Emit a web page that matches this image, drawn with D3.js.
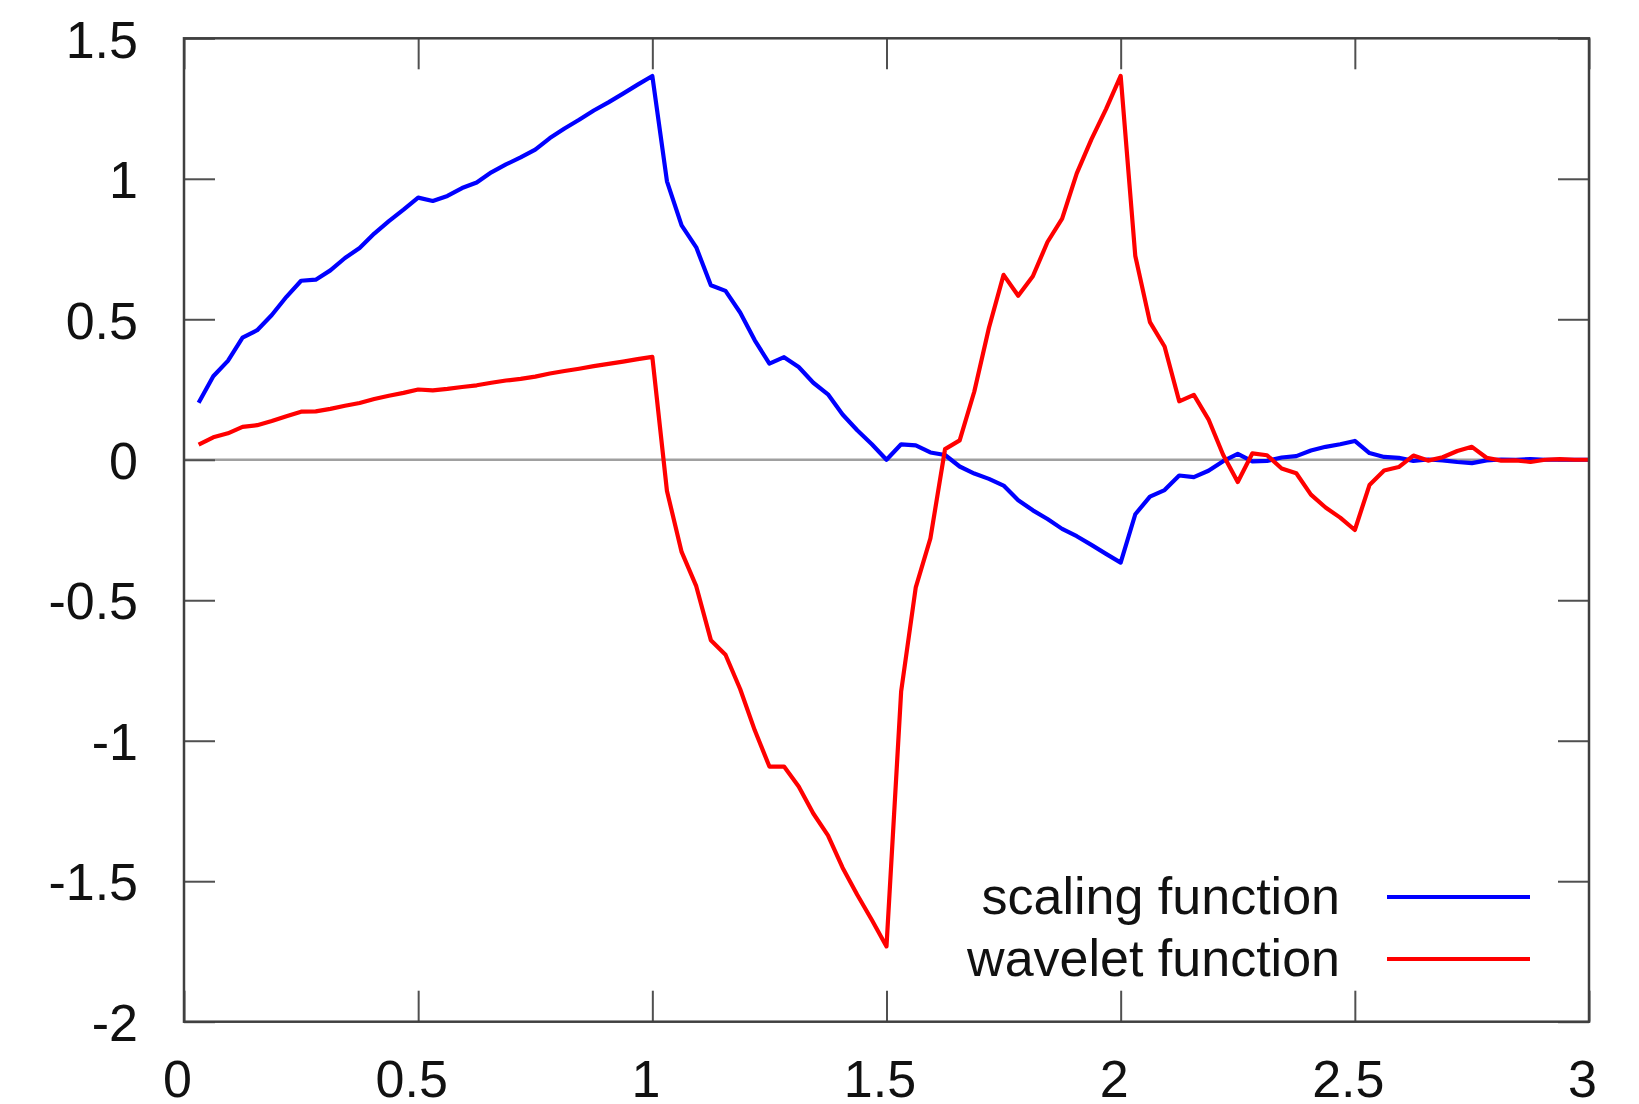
<!DOCTYPE html>
<html>
<head>
<meta charset="utf-8">
<script src="https://cdn.jsdelivr.net/npm/d3@7"></script>
<style>
    body { margin: 0; background: #fff; }
    text { font-family: "Liberation Sans", Arial, sans-serif; }
</style>
</head>
<body>
<script>
// sample positions (x), every 1/32 from 1/32 to 3
var sampleX = [
    0.03125, 0.0625, 0.09375, 0.125, 0.15625, 0.1875, 0.21875, 0.25,
    0.28125, 0.3125, 0.34375, 0.375, 0.40625, 0.4375, 0.46875, 0.5,
    0.53125, 0.5625, 0.59375, 0.625, 0.65625, 0.6875, 0.71875, 0.75,
    0.78125, 0.8125, 0.84375, 0.875, 0.90625, 0.9375, 0.96875, 1,
    1.03125, 1.0625, 1.09375, 1.125, 1.15625, 1.1875, 1.21875, 1.25,
    1.28125, 1.3125, 1.34375, 1.375, 1.40625, 1.4375, 1.46875, 1.5,
    1.53125, 1.5625, 1.59375, 1.625, 1.65625, 1.6875, 1.71875, 1.75,
    1.78125, 1.8125, 1.84375, 1.875, 1.90625, 1.9375, 1.96875, 2,
    2.03125, 2.0625, 2.09375, 2.125, 2.15625, 2.1875, 2.21875, 2.25,
    2.28125, 2.3125, 2.34375, 2.375, 2.40625, 2.4375, 2.46875, 2.5,
    2.53125, 2.5625, 2.59375, 2.625, 2.65625, 2.6875, 2.71875, 2.75,
    2.78125, 2.8125, 2.84375, 2.875, 2.90625, 2.9375, 2.96875, 3
];

// scaling function values (blue)
var scalingValues = [
    0.203, 0.297, 0.352, 0.435, 0.461, 0.515, 0.580, 0.637,
    0.641, 0.674, 0.718, 0.754, 0.805, 0.849, 0.890, 0.933,
    0.921, 0.939, 0.967, 0.987, 1.023, 1.051, 1.076, 1.104,
    1.145, 1.179, 1.210, 1.243, 1.272, 1.303, 1.335, 1.366,
    0.991, 0.834, 0.756, 0.621, 0.601, 0.524, 0.425, 0.342,
    0.365, 0.330, 0.274, 0.233, 0.161, 0.105, 0.055, 0.000,
    0.055, 0.051, 0.026, 0.017, -0.024, -0.049, -0.068, -0.092,
    -0.144, -0.180, -0.211, -0.246, -0.272, -0.303, -0.335, -0.366,
    -0.194, -0.131, -0.108, -0.056, -0.062, -0.039, -0.005, 0.021,
    -0.006, -0.004, 0.008, 0.013, 0.033, 0.046, 0.055, 0.067,
    0.024, 0.010, 0.007, -0.004, 0.001, -0.002, -0.008, -0.012,
    -0.002, 0.001, 0.000, 0.002, 0.000, 0.000, 0.000, 0.000
];

// wavelet function values (red)
var waveletValues = [
    0.054, 0.080, 0.094, 0.117, 0.123, 0.138, 0.155, 0.171,
    0.172, 0.181, 0.192, 0.202, 0.216, 0.228, 0.238, 0.250,
    0.247, 0.252, 0.259, 0.265, 0.274, 0.282, 0.288, 0.296,
    0.307, 0.316, 0.324, 0.333, 0.341, 0.349, 0.358, 0.366,
    -0.111, -0.328, -0.450, -0.642, -0.694, -0.816, -0.963, -1.092,
    -1.092, -1.163, -1.259, -1.337, -1.452, -1.548, -1.638, -1.732,
    -0.825, -0.454, -0.280, 0.038, 0.069, 0.243, 0.470, 0.658,
    0.584, 0.653, 0.775, 0.858, 1.019, 1.140, 1.248, 1.366,
    0.725, 0.490, 0.403, 0.208, 0.231, 0.144, 0.018, -0.079,
    0.023, 0.016, -0.031, -0.048, -0.124, -0.170, -0.206, -0.250,
    -0.090, -0.038, -0.026, 0.015, -0.003, 0.009, 0.031, 0.046,
    0.007, -0.003, -0.002, -0.008, 0.000, 0.002, 0.000, 0.000
];

// tick values and their labels
var xTicks = [0, 0.5, 1, 1.5, 2, 2.5, 3];
var xTickLabels = ["0", "0.5", "1", "1.5", "2", "2.5", "3"];
var yTicks = [-2, -1.5, -1, -0.5, 0, 0.5, 1, 1.5];
var yTickLabels = ["-2", "-1.5", "-1", "-0.5", "0", "0.5", "1", "1.5"];

var seriesNames = ["scaling function", "wavelet function"];
var seriesColors = ["#0000ff", "#ff0000"];

var margin = {top: 38.3, right: 50, bottom: 82.3, left: 184},
    width = 1639 - margin.left - margin.right,
    height = 1104 - margin.top - margin.bottom;

var tickLen = 31,
    fontSize = 52;

var x = d3.scaleLinear().domain([0, 3]).range([0, width]);
var y = d3.scaleLinear().domain([-2, 1.5]).range([height, 0]);

var svg = d3.select("body").append("svg")
    .attr("width", width + margin.left + margin.right)
    .attr("height", height + margin.top + margin.bottom)
    .style("display", "block")
    .append("g")
    .attr("transform", "translate(" + margin.left + "," + margin.top + ")");

// zero line
svg.append("line")
    .attr("x1", 0)
    .attr("x2", width)
    .attr("y1", y(0))
    .attr("y2", y(0))
    .attr("stroke", "#a0a0a0")
    .attr("stroke-width", 2.5);

// axes, ticks pointing inward on all four sides
function styleAxis(g) {
    g.select(".domain").remove();
    g.selectAll(".tick line")
        .attr("stroke", "#505050")
        .attr("stroke-width", 2);
    g.selectAll(".tick text")
        .attr("fill", "#111")
        .style("font-size", fontSize + "px")
        .style("font-family", "'Liberation Sans', Arial, sans-serif");
}

svg.append("g")
    .attr("transform", "translate(0," + height + ")")
    .call(d3.axisBottom(x)
        .tickValues(xTicks)
        .tickSize(-tickLen)
        .tickPadding(38)
        .tickFormat(function(d, i) { return xTickLabels[i]; }))
    .call(styleAxis)
    .selectAll(".tick text")
    .attr("dx", -7);

svg.append("g")
    .call(d3.axisTop(x)
        .tickValues(xTicks)
        .tickSize(-tickLen)
        .tickFormat(""))
    .call(styleAxis);

svg.append("g")
    .call(d3.axisLeft(y)
        .tickValues(yTicks)
        .tickSize(-tickLen)
        .tickPadding(46)
        .tickFormat(function(d, i) { return yTickLabels[i]; }))
    .call(styleAxis)
    .selectAll(".tick text")
    .attr("dy", "0.36em");

svg.append("g")
    .attr("transform", "translate(" + width + ",0)")
    .call(d3.axisRight(y)
        .tickValues(yTicks)
        .tickSize(-tickLen)
        .tickFormat(""))
    .call(styleAxis);

// curves
var line = d3.line()
    .x(function(d) { return x(d[0]); })
    .y(function(d) { return y(d[1]); });

[scalingValues, waveletValues].forEach(function(values, s) {
    var pts = sampleX.map(function(v, i) { return [v, values[i]]; });
    svg.append("path")
        .datum(pts)
        .attr("d", line)
        .attr("fill", "none")
        .attr("stroke", seriesColors[s])
        .attr("stroke-width", 4.2)
        .attr("stroke-linejoin", "round");
});

// frame
svg.append("rect")
    .attr("x", 0)
    .attr("y", 0)
    .attr("width", width)
    .attr("height", height)
    .attr("fill", "none")
    .attr("stroke", "#404040")
    .attr("stroke-width", 2.5);

// legend, lower right
var legend = svg.append("g")
    .attr("transform", "translate(" + (1340 - margin.left) + "," + (897 - margin.top) + ")");

seriesNames.forEach(function(name, i) {
    var row = legend.append("g").attr("transform", "translate(0," + (i * 62) + ")");
    row.append("text")
        .attr("x", 0)
        .attr("y", 17)
        .attr("text-anchor", "end")
        .attr("fill", "#111")
        .style("font-size", fontSize + "px")
        .text(name);
    row.append("line")
        .attr("x1", 47)
        .attr("x2", 190)
        .attr("stroke", seriesColors[i])
        .attr("stroke-width", 4.2);
});
</script>
</body>
</html>
